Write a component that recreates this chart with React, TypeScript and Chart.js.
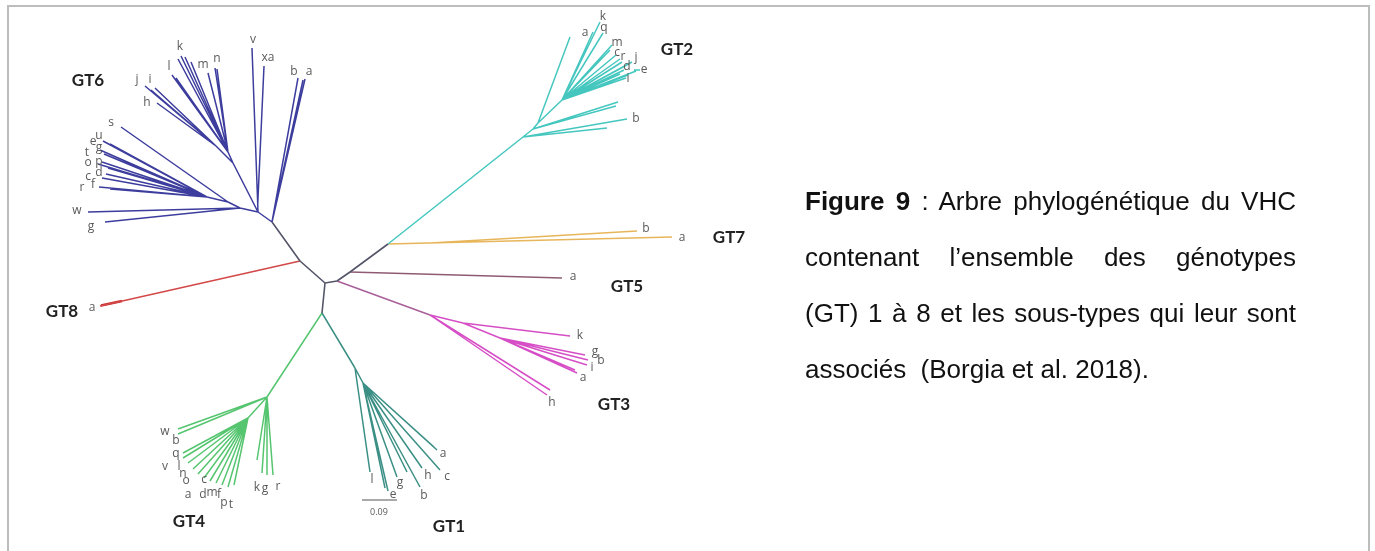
import React, { useEffect, useRef } from "react";
import { Chart, registerables } from "chart.js";
Chart.register(...registerables);

type Seg = [number, number, number, number];
type Lab = [string, number, number];

// ---- tree branches (x1, y1, x2, y2) in tree units ----
const backboneSegs: Seg[] = [
  [325, 283, 322, 313],
  [325, 283, 337, 281],
  [325, 283, 300, 261],
  [300, 261, 272, 222],
  [337, 281, 350, 272],
  [350, 272, 388, 244],
];

const gt6Segs: Seg[] = [
  [272, 222, 258, 212],
  [272, 222, 298, 78],
  [272, 222, 305, 79],
  [272, 222, 303, 80],
  [258, 212, 252, 48],
  [257.7, 205, 264, 66],
  [258, 212, 233, 163],
  [233, 163, 216, 146],
  [216, 146, 145, 86],
  [216, 146, 155, 88],
  [216, 146, 151, 90],
  [216, 146, 157, 103],
  [233, 163, 228, 152],
  [228, 152, 181, 56],
  [228, 152, 178, 59],
  [228, 152, 185, 57],
  [228, 152, 191, 62],
  [228, 152, 172, 75],
  [228, 152, 176, 78],
  [228, 152, 208, 73],
  [228, 152, 215, 68],
  [228, 152, 217, 69],
  [258, 212, 240, 208],
  [240, 208, 88, 212],
  [240, 208, 105, 222],
  [240, 208, 228, 202],
  [228, 202, 121, 127],
  [228, 202, 207, 197],
  [207, 197, 103, 141],
  [207, 197, 110, 144],
  [207, 197, 100, 150],
  [207, 197, 104, 154],
  [207, 197, 102, 162],
  [207, 197, 98, 164],
  [207, 197, 108, 168],
  [207, 197, 106, 174],
  [207, 197, 102, 178],
  [207, 197, 99, 187],
  [207, 197, 110, 189],
];

const gt2Segs: Seg[] = [
  [388, 244, 523, 137],
  [523, 137, 607, 128],
  [523, 137, 627, 119],
  [523, 137, 533, 129],
  [533, 129, 618, 102],
  [533, 129, 616, 106],
  [533, 129, 538, 123],
  [538, 123, 570, 37],
  [538, 123, 562, 100],
  [562, 100, 593, 32],
  [562, 100, 600, 22],
  [562, 100, 603, 33],
  [562, 100, 612, 45],
  [562, 100, 610, 50],
  [562, 100, 616, 55],
  [562, 100, 620, 59],
  [562, 100, 622, 62],
  [562, 100, 632, 62],
  [562, 100, 625, 66],
  [562, 100, 624, 70],
  [562, 100, 636, 71],
  [562, 100, 628, 75],
  [562, 100, 626, 78],
  [562, 100, 620, 74],
  [634, 70, 640, 70],
];

const gt7Segs: Seg[] = [
  [388, 244, 672, 237],
  [430, 243, 637, 231],
];

const gt5Segs: Seg[] = [[350, 272, 562, 278]];

const gt3StemSegs: Seg[] = [[337, 281, 430, 315]];

const gt3Segs: Seg[] = [
  [430, 315, 463, 323],
  [463, 323, 570, 336],
  [463, 323, 500, 338],
  [500, 338, 585, 355],
  [500, 338, 588, 360],
  [500, 338, 587, 365],
  [500, 338, 577, 373],
  [500, 338, 575, 370],
  [430, 315, 550, 390],
  [430, 315, 547, 395],
];

const gt8Segs: Seg[] = [[300, 261, 100, 306]];
const gt8TipSegs: Seg[] = [[101, 305.5, 122, 301]];

const gt1Segs: Seg[] = [
  [322, 313, 355, 368],
  [355, 368, 370, 472],
  [355, 368, 363, 383],
  [363, 383, 385, 488],
  [363, 383, 388, 491],
  [363, 383, 397, 477],
  [363, 383, 407, 472],
  [363, 383, 420, 487],
  [363, 383, 422, 468],
  [363, 383, 440, 470],
  [363, 383, 437, 450],
  [363, 383, 434, 447],
];

const gt4Segs: Seg[] = [
  [322, 313, 267, 397],
  [267, 397, 178, 429],
  [267, 397, 178, 434],
  [267, 397, 248, 418],
  [248, 418, 183, 453],
  [248, 418, 183, 458],
  [248, 418, 188, 463],
  [248, 418, 193, 469],
  [248, 418, 198, 474],
  [248, 418, 204, 478],
  [248, 418, 210, 481],
  [248, 418, 216, 483],
  [248, 418, 222, 485],
  [248, 418, 228, 487],
  [248, 418, 234, 485],
  [267, 397, 257, 460],
  [267, 397, 262, 473],
  [267, 397, 267, 475],
  [267, 397, 273, 475],
];

const scaleBarSegs: Seg[] = [[362, 500, 397, 500]];

// ---- subtype (tip) labels ----
const tipLabels: Lab[] = [
  // GT6
  ["w", 77, 211], ["g", 91, 227], ["r", 82, 188], ["f", 93, 185], ["c", 88, 177],
  ["d", 99, 173], ["o", 88, 163], ["p", 99, 162], ["t", 87, 153], ["g", 99, 148],
  ["e", 93, 142], ["u", 99, 136], ["s", 111, 123], ["h", 147, 103], ["j", 137, 80],
  ["i", 150, 80], ["l", 169, 67], ["k", 180, 47], ["m", 203, 65], ["n", 217, 59],
  ["v", 253, 40], ["xa", 268, 58], ["b", 294, 72], ["a", 309, 72],
  // GT2
  ["a", 585, 33], ["k", 603, 17], ["q", 604, 28], ["m", 617, 43], ["c", 617, 53],
  ["r", 623, 57], ["j", 636, 58], ["d", 627, 67], ["e", 644, 70], ["i", 628, 79],
  ["b", 636, 119],
  // GT7
  ["b", 646, 229], ["a", 682, 238],
  // GT5
  ["a", 573, 277],
  // GT3
  ["k", 580, 336], ["g", 595, 352], ["b", 601, 361], ["i", 592, 368], ["a", 583, 378],
  ["h", 552, 403],
  // GT8
  ["a", 92, 308],
  // GT1
  ["l", 372, 480], ["e", 393, 495], ["g", 400, 483], ["b", 424, 496], ["h", 428, 476],
  ["c", 447, 477], ["a", 443, 454],
  // GT4
  ["w", 165, 432], ["b", 176, 441], ["q", 176, 454], ["v", 165, 467], ["l", 179, 467],
  ["n", 183, 474], ["o", 186, 481], ["c", 204, 480], ["a", 188, 495], ["d", 203, 495],
  ["m", 212, 493], ["f", 219, 495], ["p", 224, 503], ["t", 231, 505], ["k", 257, 488],
  ["g", 265, 489], ["r", 278, 487],
];

const cladeTitles: Lab[] = [
  ["GT6", 88, 81], ["GT2", 677, 50], ["GT7", 729, 238], ["GT5", 627, 287],
  ["GT3", 614, 405], ["GT1", 449, 527], ["GT4", 189, 522], ["GT8", 62, 312],
];

const scaleLabels: Lab[] = [["0.09", 379, 512]];

const captionLines = [
  "Arbre phylogénétique du VHC",
  "contenant  l’ensemble  des  génotypes",
  "(GT) 1 à 8 et les sous-types qui leur sont",
  "associés  (Borgia et al. 2018).",
];

function toPoints(segs: Seg[]) {
  const pts: { x: number | null; y: number | null }[] = [];
  segs.forEach((s) => {
    pts.push({ x: s[0], y: s[1] });
    pts.push({ x: s[2], y: s[3] });
    pts.push({ x: null, y: null });
  });
  return pts;
}

const labelPlugin = {
  id: "treeLabels",
  afterDatasetsDraw(chart: any) {
    const { ctx, scales } = chart;
    const xs = scales.x;
    const ys = scales.y;
    ctx.save();
    ctx.textAlign = "center";
    ctx.textBaseline = "middle";
    ctx.fillStyle = "#5a5a5a";
    ctx.font = "12px 'Open Sans', 'Liberation Sans', sans-serif";
    tipLabels.forEach(([t, x, y]) => {
      ctx.fillText(t, xs.getPixelForValue(x), ys.getPixelForValue(y));
    });
    ctx.font = "9px 'Open Sans', 'Liberation Sans', sans-serif";
    scaleLabels.forEach(([t, x, y]) => {
      ctx.fillText(t, xs.getPixelForValue(x), ys.getPixelForValue(y));
    });
    ctx.fillStyle = "#222";
    ctx.font = "bold 17px Lato, 'Open Sans', sans-serif";
    cladeTitles.forEach(([t, x, y]) => {
      ctx.fillText(t, xs.getPixelForValue(x), ys.getPixelForValue(y));
    });
    ctx.restore();
  },
};

export default function App() {
  const ref = useRef<HTMLCanvasElement | null>(null);
  useEffect(() => {
    document.body.style.margin = "0";
    if (!ref.current) return;
    const groups = [
      { segs: backboneSegs, color: "#55556a", w: 1.6 },
      { segs: gt6Segs, color: "#3d3d9e", w: 1.5 },
      { segs: gt2Segs, color: "#45c7bf", w: 1.5 },
      { segs: gt7Segs, color: "#e8b65a", w: 1.6 },
      { segs: gt5Segs, color: "#8e5b72", w: 1.6 },
      { segs: gt3StemSegs, color: "#a8609a", w: 1.6 },
      { segs: gt3Segs, color: "#d64ec6", w: 1.5 },
      { segs: gt8Segs, color: "#d34848", w: 1.6 },
      { segs: gt8TipSegs, color: "#c92e2e", w: 2.6 },
      { segs: gt1Segs, color: "#3b8f85", w: 1.5 },
      { segs: gt4Segs, color: "#55c56f", w: 1.5 },
      { segs: scaleBarSegs, color: "#555555", w: 1.2 },
    ];
    const chart = new Chart(ref.current, {
      type: "line",
      data: {
        datasets: groups.map((g) => ({
          data: toPoints(g.segs) as any,
          borderColor: g.color,
          borderWidth: g.w,
          pointRadius: 0,
          tension: 0,
          spanGaps: false,
          fill: false,
        })),
      },
      options: {
        animation: false,
        responsive: false,
        events: [],
        layout: { padding: 0 },
        plugins: { legend: { display: false }, tooltip: { enabled: false } },
        scales: {
          x: { type: "linear", min: 0, max: 1375, display: false },
          y: { type: "linear", min: 0, max: 551, reverse: true, display: false },
        },
      },
      plugins: [labelPlugin],
    });
    return () => chart.destroy();
  }, []);

  const lineStyle = (justify: boolean): React.CSSProperties => ({
    height: 56,
    lineHeight: "56px",
    textAlign: justify ? "justify" : "left",
    textAlignLast: justify ? "justify" : "left",
    whiteSpace: justify ? "normal" : "pre",
  } as React.CSSProperties);

  return (
    <div style={{ position: "relative", width: 1375, height: 551, overflow: "hidden", background: "#fff" }}>
      <canvas ref={ref} width={1375} height={551} style={{ position: "absolute", left: 0, top: 0, width: 1375, height: 551 }} />
      <div
        style={{
          position: "absolute",
          left: 7,
          top: 5,
          width: 1359,
          height: 600,
          border: "2px solid #bdbdbd",
          pointerEvents: "none",
        }}
      />
      <div
        style={{
          position: "absolute",
          left: 805,
          top: 173,
          width: 491,
          fontFamily: "'Liberation Sans', Arial, sans-serif",
          fontSize: 26,
          color: "#111",
        }}
      >
        <div style={lineStyle(true)}>
          <b>Figure 9</b> : {captionLines[0]}
        </div>
        <div style={lineStyle(true)}>{captionLines[1]}</div>
        <div style={lineStyle(true)}>{captionLines[2]}</div>
        <div style={lineStyle(false)}>{captionLines[3]}</div>
      </div>
    </div>
  );
}
